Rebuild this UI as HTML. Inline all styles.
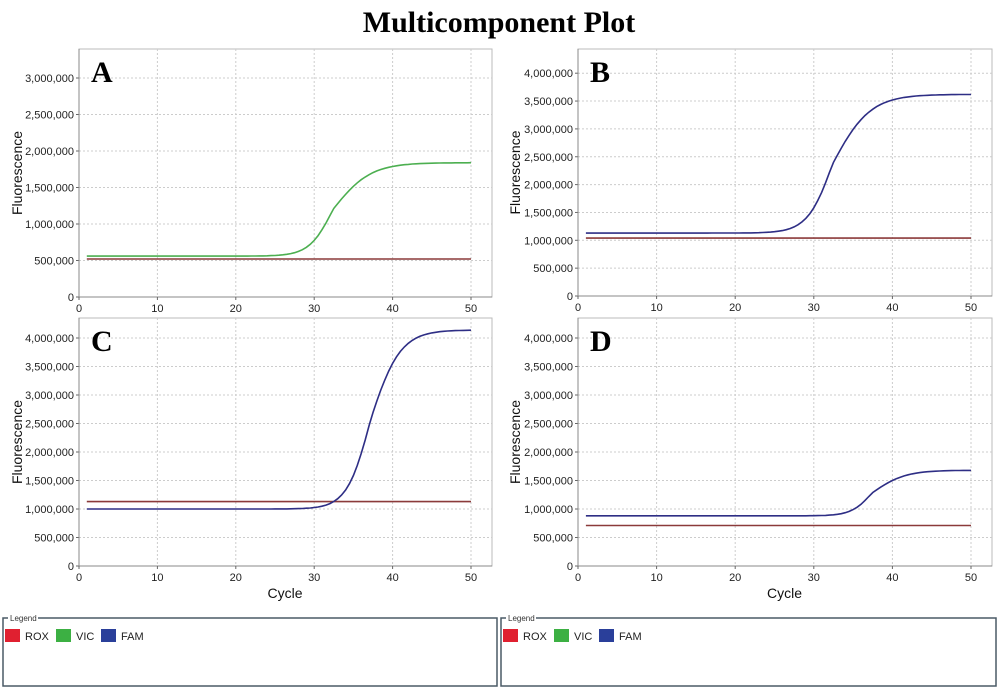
<!DOCTYPE html>
<html><head><meta charset="utf-8"><style>
body{margin:0;background:#fff;width:999px;height:689px;overflow:hidden}
svg{display:block}
text{font-family:"Liberation Sans",sans-serif}
</style></head><body>
<svg id="s" width="999" height="689" xmlns="http://www.w3.org/2000/svg">
<text x="499" y="32" text-anchor="middle" font-family="Liberation Serif" font-weight="bold" font-size="30" style="font-family:'Liberation Serif',serif">Multicomponent Plot</text>
</svg>
<script>
var s=document.getElementById('s'),NS='http://www.w3.org/2000/svg';
function el(t,a,txt){var e=document.createElementNS(NS,t);for(var k in a)e.setAttribute(k,a[k]);if(txt!=null)e.textContent=txt;s.appendChild(e);return e;}
function fmt(v){return v.toLocaleString('en-US');}
function panel(o){
 var x0=o.x0,x50=o.x50,y0=o.y0,ppm=o.ppm,top=o.top,right=o.right;
 var X=function(c){return x0+(x50-x0)*c/50},Y=function(v){return y0-v*ppm/1e6};
 el('rect',{x:x0,y:top,width:right-x0,height:y0-top,fill:'#fff',stroke:'#bbb','stroke-width':1});
 for(var c=10;c<=50;c+=10)el('line',{x1:X(c),x2:X(c),y1:top,y2:y0,stroke:'#ccc','stroke-dasharray':'2,2'});
 for(var v=0;v<=o.ymax;v+=500000){ if(v>0)el('line',{x1:x0,x2:right,y1:Y(v),y2:Y(v),stroke:'#ccc','stroke-dasharray':'2,2'});
  el('text',{x:x0-5,y:Y(v)+4,'text-anchor':'end','font-size':11,fill:'#222'},fmt(v));
  el('line',{x1:x0-3,x2:x0,y1:Y(v),y2:Y(v),stroke:'#666'});}
 el('line',{x1:x0,x2:x0,y1:top,y2:y0,stroke:'#888'});
 el('line',{x1:x0,x2:right,y1:y0,y2:y0,stroke:'#888'});
 for(var c=0;c<=50;c+=10){el('text',{x:X(c),y:y0+15,'text-anchor':'middle','font-size':11,fill:'#222'},c);el('line',{x1:X(c),x2:X(c),y1:y0,y2:y0+3,stroke:'#666'});}
 var cy=(top+y0)/2;
 el('text',{x:o.lx,y:cy,'text-anchor':'middle','font-size':14,transform:'rotate(-90 '+o.lx+' '+cy+')',fill:'#111'},'Fluorescence');
 if(o.cycle)el('text',{x:(x0+x50)/2+10,y:y0+32,'text-anchor':'middle','font-size':14,fill:'#111'},'Cycle');
 el('text',{x:x0+12,y:top+33,'font-size':30,'font-weight':'bold',style:"font-family:'Liberation Serif',serif"},o.letter);
 o.series.forEach(function(sr){var d='';for(var c=1;c<=50;c+=0.5){var ss=c<sr.m?sr.s:(sr.s2||sr.s);var v=sr.b+(sr.t-sr.b)/(1+Math.exp(-(c-sr.m)/ss));d+=(c==1?'M':'L')+X(c).toFixed(1)+','+Y(v).toFixed(1);}
  el('path',{d:d,fill:'none',stroke:sr.col,'stroke-width':1.6});});
}
var ROX='#8b3a3a',VIC='#4caf50',FAM='#2e2e85';
panel({x0:79,x50:471,right:492,top:49,y0:297,ppm:73,ymax:3000000,lx:22,letter:'A',series:[{b:520000,t:520000,m:30,s:2,col:ROX},{b:560000,t:1840000,m:32.4,s:1.5,s2:2.4,col:VIC}]});
panel({x0:578,x50:971,right:992,top:49,y0:296,ppm:55.7,ymax:4000000,lx:520,letter:'B',series:[{b:1040000,t:1040000,m:30,s:2,col:ROX},{b:1130000,t:3620000,m:32.4,s:1.6,s2:2.4,col:FAM}]});
panel({x0:79,x50:471,right:492,top:318,y0:566,ppm:57,ymax:4000000,lx:22,letter:'C',cycle:1,series:[{b:1130000,t:1130000,m:30,s:2,col:ROX},{b:1000000,t:4140000,m:37.2,s:1.5,s2:1.9,col:FAM}]});
panel({x0:578,x50:971,right:992,top:318,y0:566,ppm:57,ymax:4000000,lx:520,letter:'D',cycle:1,series:[{b:710000,t:710000,m:30,s:2,col:ROX},{b:880000,t:1680000,m:37.4,s:1.3,s2:2.1,col:FAM}]});
[[3,497],[501,996]].forEach(function(b){
 el('rect',{x:b[0],y:618,width:b[1]-b[0],height:68,fill:'none',stroke:'#4a5a66','stroke-width':1.5});
 el('rect',{x:b[0]+5,y:612,width:30,height:10,fill:'#fff'});
 el('text',{x:b[0]+7,y:621,'font-size':8,fill:'#333'},'Legend');
 var items=[['ROX','#e02030'],['VIC','#3cb043'],['FAM','#2a3f9a']],xs=[b[0]+2,b[0]+53,b[0]+98];
 items.forEach(function(it,i){el('rect',{x:xs[i],y:629,width:15,height:13,fill:it[1]});el('text',{x:xs[i]+20,y:640,'font-size':11,fill:'#222'},it[0]);});
});
</script>
</body></html>
